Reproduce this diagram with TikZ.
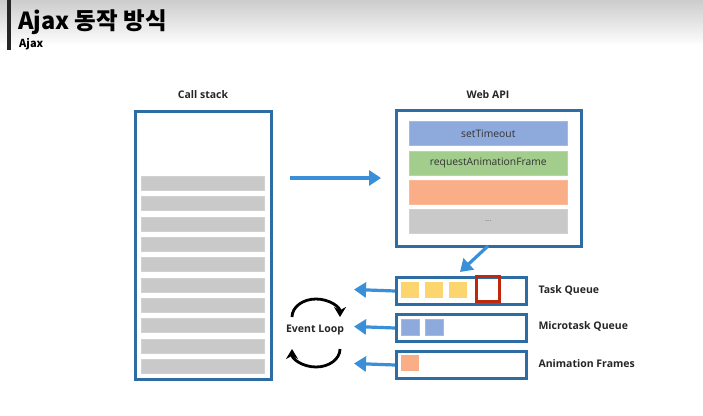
\documentclass[tikz,border=0pt]{standalone}
\usepackage{fontspec}
\setmainfont{Open Sans}
\newfontfamily\kr{Noto Sans CJK KR}
\usetikzlibrary{arrows.meta}
\definecolor{boxblue}{HTML}{2E6CA4}
\definecolor{arrblue}{HTML}{3A8FD9}
\definecolor{barblue}{HTML}{8EA9DB}
\definecolor{bargreen}{HTML}{A2CD8C}
\definecolor{barorange}{HTML}{F9AE88}
\definecolor{bargray}{HTML}{C9C9C9}
\definecolor{sqyellow}{HTML}{FDD56E}
\definecolor{sqred}{HTML}{C0280E}
\begin{document}
\begin{tikzpicture}[x=1pt,y=-1pt,
  box/.style={draw=boxblue,line width=3pt,fill=white,anchor=north west,inner sep=0pt},
  stackbar/.style={fill=bargray,draw=bargray!85!white,line width=0.5pt,anchor=north west,minimum width=123pt,minimum height=14pt,inner sep=0pt},
  apibar/.style={line width=0.6pt,anchor=north west,minimum width=158pt,minimum height=24pt,inner sep=0pt,font=\fontsize{10.3}{12}\selectfont,text=black!80},
  sq/.style={anchor=north west,minimum width=18pt,minimum height=16pt,inner sep=0pt},
  arr/.style={draw=arrblue,line width=3.2pt,-{Triangle[length=12pt,width=15pt]}},
  loop/.style={draw=black,line width=2.8pt,-{Stealth[length=10pt,width=12pt]}},
  lab/.style={font=\bfseries\fontsize{10.5}{12}\selectfont,text=black!85},
  qlab/.style={lab,anchor=west}]
\useasboundingbox (0,0) rectangle (703,415);
\fill[white] (0,0) rectangle (703,415);
\shade[top color=black!20,bottom color=white] (0,0) rectangle (703,46);
\fill[black!85] (7,0) rectangle (11,50);
\node[anchor=base west,inner sep=0pt,font=\kr\bfseries\fontsize{23.5}{26}\selectfont] (title) at (18,29) {Ajax 동작 방식};
\node[anchor=base west,inner sep=0pt,font=\kr\bfseries\fontsize{11}{12}\selectfont] (sub) at (19,47) {Ajax};
% call stack
\node[lab] (cslab) at (203,95) {Call stack};
\node[box,minimum width=136pt,minimum height=268pt] (cs) at (134,110) {};
\foreach \i in {0,...,9}{
  \node[stackbar] (s\i) at (141,{176+20.35*\i}) {};
}
% web api
\node[lab] (walab) at (488,95) {Web API};
\node[box,minimum width=185pt,minimum height=136pt] (wa) at (395,109) {};
\node[apibar,fill=barblue,draw=barblue!80!white] (b1) at (409,121) {setTimeout};
\node[apibar,fill=bargreen,draw=bargreen!80!white] (b2) at (409,151) {requestAnimationFrame};
\node[apibar,fill=barorange,draw=barorange!85!white] (b3) at (409,180) {};
\node[apibar,fill=bargray,draw=bargray!85!white,font=\fontsize{8}{10}\selectfont,text=black!55] (b4) at (409,209) {...};
% queues
\node[box,minimum width=130pt,minimum height=27pt] (tq) at (395,276) {};
\node[box,minimum width=130pt,minimum height=27pt] (mq) at (395,313) {};
\node[box,minimum width=130pt,minimum height=27pt] (aq) at (395,350) {};
\node[sq,fill=sqyellow] (y1) at (401,282) {};
\node[sq,fill=sqyellow] (y2) at (425,282) {};
\node[sq,fill=sqyellow] (y3) at (449,282) {};
\node[sq,draw=sqred,line width=3.2pt,minimum width=23pt,minimum height=25pt] (r1) at (475,275) {};
\node[sq,fill=barblue,draw=barblue!80!white,line width=0.5pt] (m1) at (401,319) {};
\node[sq,fill=barblue,draw=barblue!80!white,line width=0.5pt] (m2) at (425,319) {};
\node[sq,fill=barorange] (o1) at (401,355) {};
\node[qlab] (tql) at (535,290) {Task Queue};
\node[qlab] (mql) at (535,326) {Microtask Queue};
\node[qlab] (aql) at (535,364) {Animation Frames};
% arrows
\coordinate (a1) at (290,178);
\coordinate (a1e) at (381,178);
\draw[arr] (a1) -- (a1e);
\coordinate (a2s) at (488,246);
\coordinate (a2e) at (460,272);
\draw[arr] (a2s) -- (a2e);
\coordinate (t1) at (354,289.5);
\coordinate (t2) at (354,326.5);
\coordinate (t3) at (354,363.5);
\draw[arr] (tq.west) -- (t1);
\draw[arr] (mq.west) -- (t2);
\draw[arr] (aq.west) -- (t3);
% event loop
\node[lab] (el) at (315,330) {Event Loop};
\coordinate (l1) at (292,317);
\coordinate (l2) at (340,349);
\draw[loop] (l1) arc[start angle=180,end angle=0,x radius=24pt,y radius=18pt];
\draw[loop] (l2) arc[start angle=0,end angle=-180,x radius=24pt,y radius=18pt];
\end{tikzpicture}
\end{document}
